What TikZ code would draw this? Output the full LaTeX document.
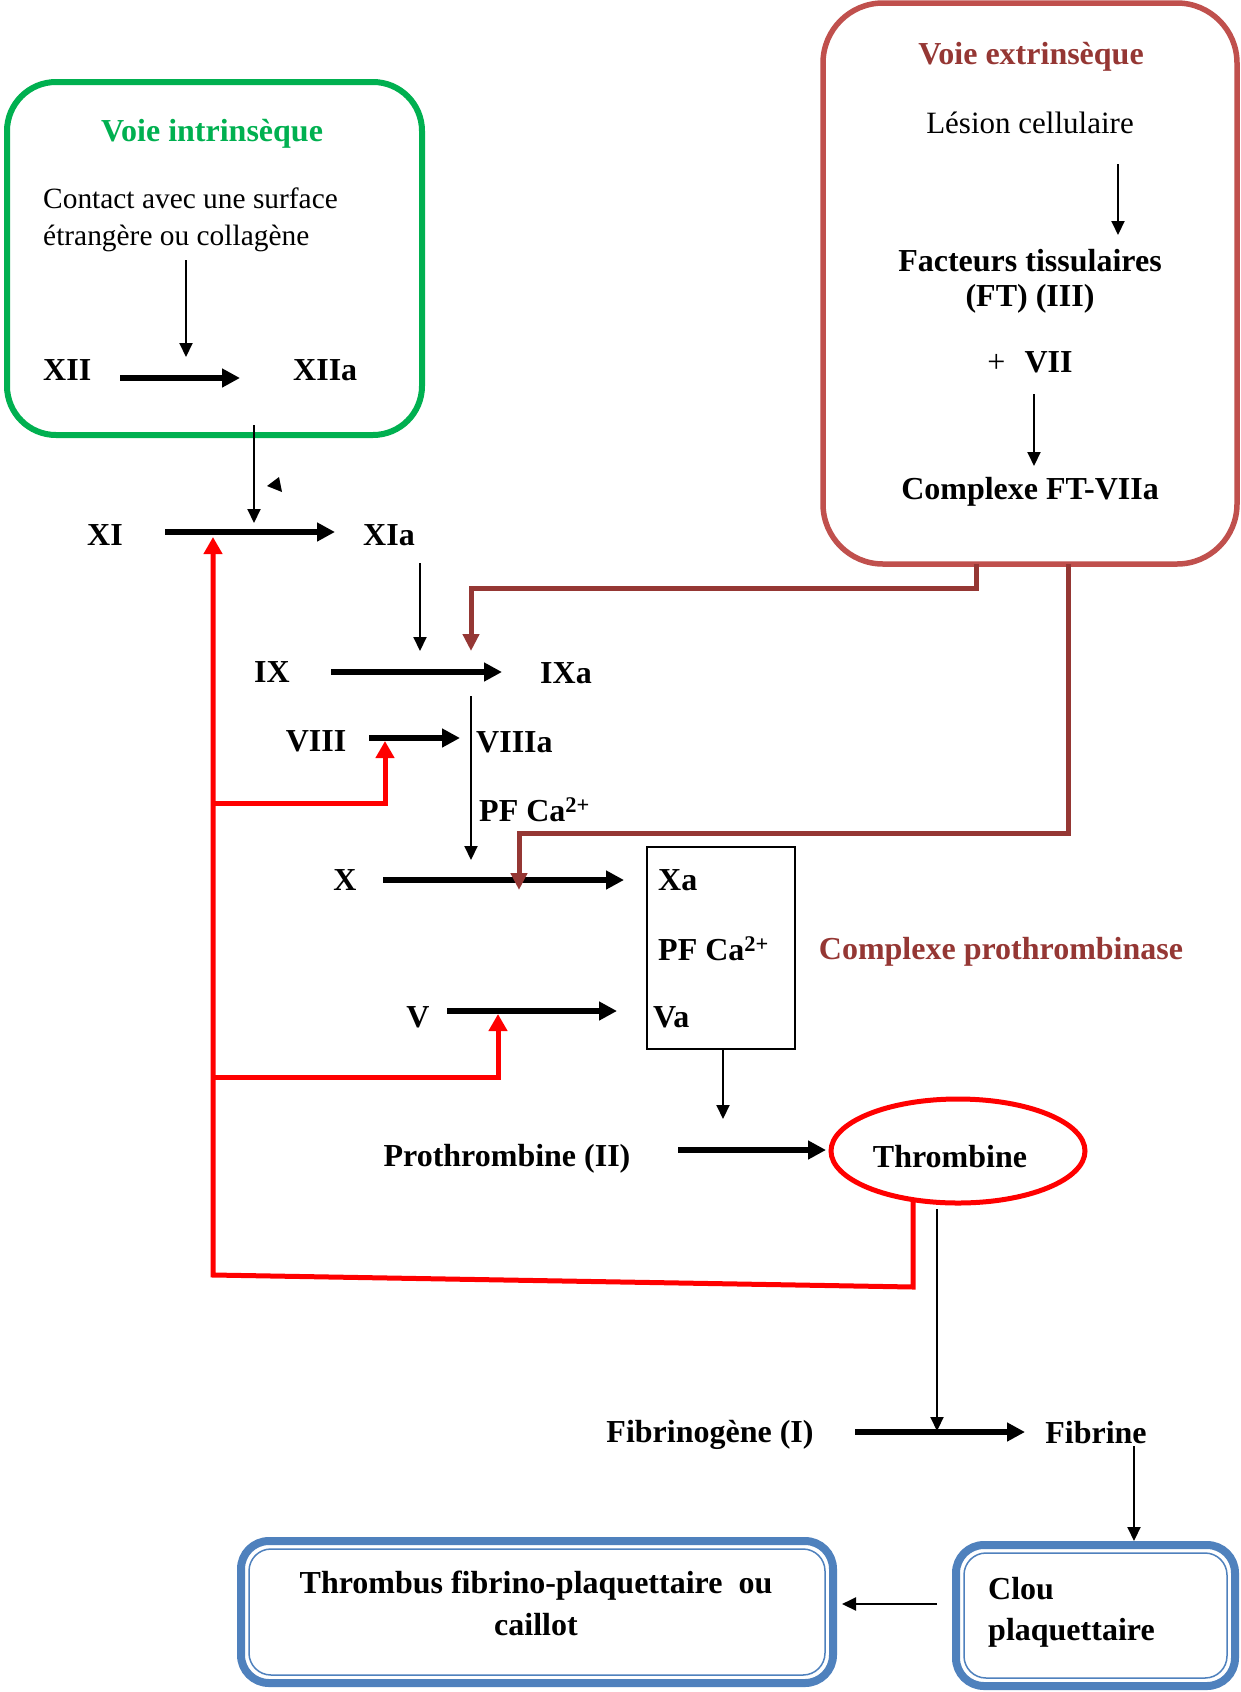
\documentclass[tikz,border=0pt]{standalone}
\usepackage{fontspec}
\setmainfont{Liberation Serif}
\usetikzlibrary{arrows.meta,shapes.geometric}
\definecolor{grn}{HTML}{00B050}
\definecolor{redbox}{HTML}{C0504D}
\definecolor{brn}{HTML}{953734}
\definecolor{blu}{HTML}{4F81BD}
\definecolor{rd}{HTML}{FF0000}
\begin{document}
\begin{tikzpicture}[x=1pt,y=-1pt,
  lab/.style={font=\fontsize{32}{38}\selectfont\bfseries, inner sep=0pt},
  txt/.style={font=\fontsize{30}{36}\selectfont, inner sep=0pt},
  bigarrow/.style={line width=6pt, -{Triangle[length=18pt,width=18pt]}},
  thinarrow/.style={line width=2pt, -{Triangle[length=14pt,width=13pt]}},
  redarrow/.style={rd, line width=5pt, -{Triangle[length=17pt,width=18pt]}},
  brnarrow/.style={brn, line width=5pt, -{Triangle[length=17pt,width=16pt]}},
]
\useasboundingbox (0,0) rectangle (1240,1692);
\fill[white] (0,0) rectangle (1240,1692);

% ---------- intrinsic box ----------
\node[draw=grn, line width=6pt, rounded corners=49pt, minimum width=415pt, minimum height=353pt, inner sep=0pt] (gbox) at (214.5,258.5) {};
\node[lab, text=grn] (vi) at (212,134) {Voie intrinsèque};
\node[txt, anchor=west, font=\fontsize{29.4}{35}\selectfont] (ct1) at (43,198) {Contact avec une surface};
\node[txt, anchor=west, font=\fontsize{29.4}{35}\selectfont] (ct2) at (43,238) {étrangère ou collagène};
\node[lab, anchor=west] (xii) at (43,370) {XII};
\node[lab, anchor=west] (xiia) at (293,370) {XIIa};
\coordinate (c1a) at (186,260); \coordinate (c1b) at (186,357);
\draw[thinarrow] (c1a) -- (c1b);
\coordinate (a1a) at (120,378); \coordinate (a1b) at (240,378);
\draw[bigarrow] (a1a) -- (a1b);

% ---------- extrinsic box ----------
\node[draw=redbox, line width=5.5pt, rounded corners=60pt, minimum width=414pt, minimum height=561pt, inner sep=0pt] (rbox) at (1030,283.5) {};
\node[lab, text=brn] (ve) at (1031,57) {Voie extrinsèque};
\node[txt, font=\fontsize{31}{36}\selectfont] (les) at (1030,123) {Lésion cellulaire};
\node[lab] (ft1) at (1030,261) {Facteurs tissulaires};
\node[lab] (ft2) at (1030,299) {(FT) (III)};
\node[lab] (vii) at (1030,362) {{\mdseries +}\hspace{19pt}VII};
\node[lab] (cft) at (1030,492) {Complexe FT-VIIa};
\coordinate (e1a) at (1118,164); \coordinate (e1b) at (1118,235);
\draw[thinarrow] (e1a) -- (e1b);
\coordinate (e2a) at (1034,394); \coordinate (e2b) at (1034,466);
\draw[thinarrow] (e2a) -- (e2b);

% ---------- cascade ----------
\node[lab, anchor=west] (xi) at (87,535) {XI};
\node[lab, anchor=west] (xia) at (363,535) {XIa};
\coordinate (a2a) at (165,532); \coordinate (a2b) at (335,532);
\draw[bigarrow] (a2a) -- (a2b);
\coordinate (d1a) at (254,425); \coordinate (d1b) at (254,523);
\draw[thinarrow] (d1a) -- (d1b);
\fill (267,486) -- (279,477) -- (282,492) -- cycle;

\node[lab] (ix) at (272,672) {IX};
\node[lab, anchor=west] (ixa) at (540,673) {IXa};
\coordinate (a3a) at (331,672); \coordinate (a3b) at (502,672);
\draw[bigarrow] (a3a) -- (a3b);
\coordinate (d2a) at (420,563); \coordinate (d2b) at (420,651);
\draw[thinarrow] (d2a) -- (d2b);

\node[lab] (viii) at (316,741) {VIII};
\node[lab, anchor=west] (viiia) at (476,742) {VIIIa};
\coordinate (a4a) at (369,738); \coordinate (a4b) at (460,738);
\draw[bigarrow] (a4a) -- (a4b);
\node[lab, anchor=west] (pf1) at (479,810) {PF Ca\textsuperscript{2+}};
\coordinate (d3a) at (471,696); \coordinate (d3b) at (471,860);
\draw[thinarrow] (d3a) -- (d3b);

\node[lab] (x) at (345,880) {X};
\coordinate (a5a) at (383,880); \coordinate (a5b) at (624,880);
\draw[bigarrow] (a5a) -- (a5b);

\node[draw, line width=1.6pt, minimum width=148pt, minimum height=202pt, inner sep=0pt] (pbox) at (721,948) {};
\node[lab, anchor=west] (xa) at (658,880) {Xa};
\node[lab, anchor=west] (pf2) at (658,949) {PF Ca\textsuperscript{2+}};
\node[lab, anchor=west] (va) at (653,1017) {Va};
\node[lab, text=brn] (cpt) at (1001,952) {Complexe prothrombinase};

\node[lab] (v) at (418,1017) {V};
\coordinate (a6a) at (447,1011); \coordinate (a6b) at (617,1011);
\draw[bigarrow] (a6a) -- (a6b);

\coordinate (d4b) at (723,1119);
\draw[thinarrow] (pbox.south -| d4b) -- (d4b);
\node[lab] (proth) at (507,1159) {Prothrombine (II)};
\coordinate (a7a) at (678,1150); \coordinate (a7b) at (826,1150);
\draw[bigarrow] (a7a) -- (a7b);
\node[draw=rd, line width=5pt, ellipse, minimum width=254pt, minimum height=104pt, inner sep=0pt] (thr) at (958,1151) {};
\node[lab] (thrt) at (950,1157) {Thrombine};

\node[lab] (fbg) at (710,1435) {Fibrinogène (I)};
\node[lab] (fib) at (1096,1433) {Fibrine};
\coordinate (a8a) at (855,1432); \coordinate (a8b) at (1025,1432);
\draw[bigarrow] (a8a) -- (a8b);
\coordinate (d5a) at (937,1209); \coordinate (d5b) at (937,1431);
\draw[thinarrow] (d5a) -- (d5b);

% ---------- brown connectors ----------
\coordinate (b1s) at (976,564); \coordinate (b1e) at (471,651);
\draw[brnarrow] (b1s) -- (976,588) -- (471,588) -- (b1e);
\coordinate (b2s) at (1068,564); \coordinate (b2e) at (519,890);
\draw[brnarrow] (b2s) -- (1068,833) -- (519,833) -- (b2e);

% ---------- red feedback ----------
\coordinate (r0) at (913,1199);
\coordinate (r1) at (213,537);
\draw[redarrow] (r0) -- (913,1287) -- (213,1275) -- (r1);
\coordinate (r2s) at (213,803); \coordinate (r2e) at (385,741);
\draw[redarrow] (r2s) -- (385,803) -- (r2e);
\coordinate (r3s) at (213,1077); \coordinate (r3e) at (498,1014);
\draw[redarrow] (r3s) -- (498,1077) -- (r3e);

% ---------- bottom boxes ----------
\node[draw=blu, line width=8pt, rounded corners=28pt, minimum width=592pt, minimum height=142pt, inner sep=0pt] (tbox) at (537,1612) {};
\node[draw=blu, line width=1.5pt, rounded corners=22pt, minimum width=576pt, minimum height=126pt, inner sep=0pt] (tboxi) at (537,1612) {};
\node[lab] (thb1) at (536,1586) {Thrombus fibrino-plaquettaire\ \ ou};
\node[lab] (thb2) at (536,1625) {caillot};

\node[draw=blu, line width=8pt, rounded corners=28pt, minimum width=279pt, minimum height=141pt, inner sep=0pt] (cbox) at (1095.5,1615.5) {};
\node[draw=blu, line width=1.5pt, rounded corners=22pt, minimum width=263pt, minimum height=125pt, inner sep=0pt] (cboxi) at (1095.5,1615.5) {};
\node[lab, anchor=west] (clou1) at (988,1589) {Clou};
\node[lab, anchor=west] (clou2) at (988,1633) {plaquettaire};

\coordinate (d6a) at (1134,1446);
\draw[thinarrow] (d6a) -- (cbox.north -| d6a);
\coordinate (h1a) at (937,1604); \coordinate (h1b) at (842,1604);
\draw[thinarrow] (h1a) -- (h1b);
\end{tikzpicture}
\end{document}
